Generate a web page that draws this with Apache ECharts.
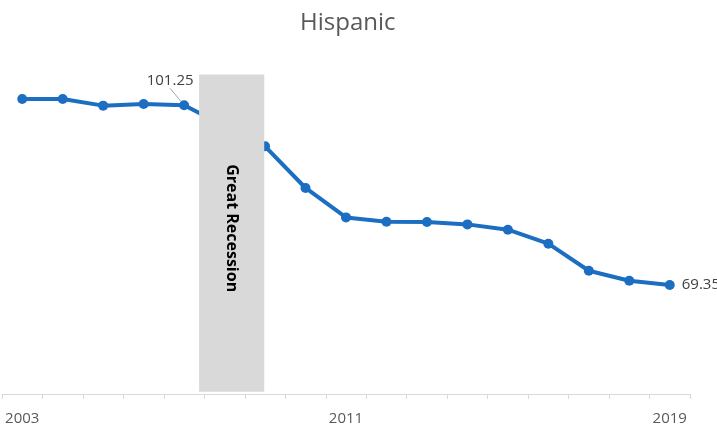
<!DOCTYPE html>
<html>
<head>
<meta charset="utf-8">
<script src="https://cdn.jsdelivr.net/npm/echarts@6/dist/echarts.min.js"></script>
<style>
    html, body { margin: 0; padding: 0; background: #fff; }
    #chart { width: 717px; height: 432px; }
</style>
</head>
<body>
<div id="chart"></div>
<script>
    // Years on the x axis
    const years = ['2003', '2004', '2005', '2006', '2007', '2008', '2009', '2010', '2011',
        '2012', '2013', '2014', '2015', '2016', '2017', '2018', '2019'];

    // Index values (2008 is hidden behind the band, estimated)
    const hispanic = [102.38, 102.38, 101.19, 101.49, 101.25, 97.6, 93.96, 86.57, 81.35,
        80.59, 80.53, 80.11, 79.17, 76.68, 71.88, 70.11, 69.35];

    // Shaded recession band: [start year, end year, bottom value, top value]
    const recession = [[2007.37, 2008.98, 50.4, 106.7]];
    const recessionLabel = 'Great Recession';

    const chart = echarts.init(document.getElementById('chart'));

    const option = {
        animation: false,
        textStyle: { fontFamily: 'Open Sans' },
        title: {
            text: 'Hispanic',
            left: 295,
            top: 6,
            textStyle: { fontSize: 24, fontWeight: 'normal', color: '#595959', fontFamily: 'Open Sans' }
        },
        grid: { left: 2, right: 27, top: 56, bottom: 38, containLabel: false },
        xAxis: [
            {
                type: 'category',
                data: years,
                boundaryGap: true,
                axisLine: { lineStyle: { color: '#d9d9d9', width: 1 } },
                axisTick: { show: true, interval: 0, length: 5, lineStyle: { color: '#d9d9d9' } },
                axisLabel: { interval: 7, margin: 17, fontSize: 15, color: '#595959' },
                splitLine: { show: false }
            },
            {
                // helper axis so the band can sit between years
                type: 'value',
                show: false,
                min: 2002.5,
                max: 2019.5
            }
        ],
        yAxis: {
            type: 'value',
            min: 50,
            max: 110,
            show: false,
            splitLine: { show: false }
        },
        series: [
            {
                name: 'Hispanic',
                type: 'line',
                data: hispanic.map((v, i) => {
                    if (i === 4) {
                        return {
                            value: v,
                            label: { show: true, position: 'top', distance: 7 },
                            labelLine: { show: true, lineStyle: { color: '#a6a6a6', width: 1 } }
                        };
                    }
                    if (i === hispanic.length - 1) {
                        return { value: v, label: { show: true, position: 'right', distance: 7 } };
                    }
                    return v;
                }),
                symbol: 'circle',
                symbolSize: 10,
                lineStyle: { color: '#1b6ec2', width: 4 },
                itemStyle: { color: '#1b6ec2' },
                label: { show: false, fontSize: 15, color: '#404040' },
                labelLine: { show: false },
                labelLayout: function (params) {
                    if (params.dataIndex === 4) {
                        return { dx: -14, dy: -5 };
                    }
                    return {};
                },
                z: 2
            },
            {
                name: 'Recession',
                type: 'custom',
                xAxisIndex: 1,
                z: 5,
                data: recession,
                renderItem: function (params, api) {
                    const p0 = api.coord([api.value(0), api.value(3)]);
                    const p1 = api.coord([api.value(1), api.value(2)]);
                    const cx = (p0[0] + p1[0]) / 2;
                    const cy = (p0[1] + p1[1]) / 2 - 5;
                    return {
                        type: 'group',
                        children: [
                            {
                                type: 'rect',
                                shape: { x: p0[0], y: p0[1], width: p1[0] - p0[0], height: p1[1] - p0[1] },
                                style: { fill: '#d9d9d9' }
                            },
                            {
                                type: 'text',
                                x: cx,
                                y: cy,
                                rotation: -Math.PI / 2,
                                style: {
                                    text: recessionLabel,
                                    fill: '#000',
                                    font: 'bold 16px "Open Sans"',
                                    align: 'center',
                                    verticalAlign: 'middle'
                                }
                            }
                        ]
                    };
                }
            }
        ]
    };

    chart.setOption(option);
</script>
</body>
</html>
